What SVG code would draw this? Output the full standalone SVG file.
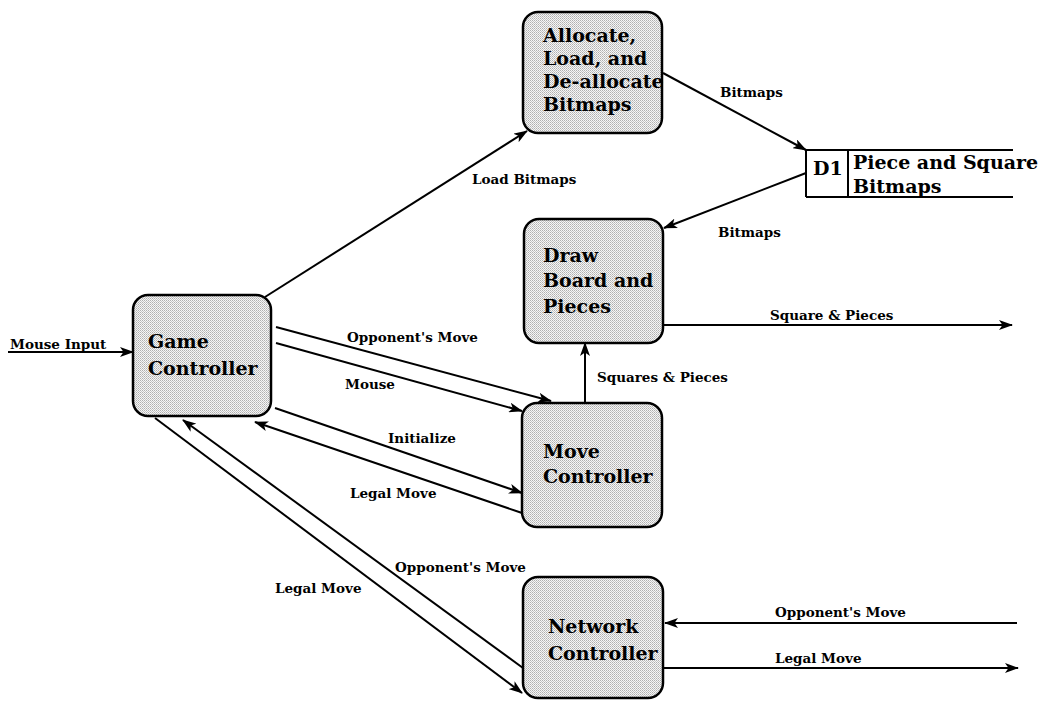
<svg xmlns="http://www.w3.org/2000/svg" width="1038" height="708" viewBox="0 0 1038 708">
  <defs>
    <!-- fine halftone fill for process bubbles -->
    <pattern id="dots" width="2" height="2" patternUnits="userSpaceOnUse">
      <rect width="2" height="2" fill="#f6f6f6"/>
      <rect x="0" y="0" width="1" height="1" fill="#b0b0b0"/>
      <rect x="1" y="1" width="1" height="1" fill="#c6c6c6"/>
    </pattern>
    <marker id="arrow" markerWidth="14" markerHeight="10" refX="13" refY="5" orient="auto" markerUnits="userSpaceOnUse">
      <path d="M0,0 L14,5 L0,10 L3.5,5 z" fill="#000"/>
    </marker>
    <style>
      .proc { fill: url(#dots); stroke: #000; stroke-width: 2.5; }
      .ptext { font-family: "DejaVu Serif", "Liberation Serif", serif; font-weight: bold; font-size: 19px; fill: #000; }
      .flow { fill: none; stroke: #000; stroke-width: 2; }
      .arr { marker-end: url(#arrow); }
      .lbl { font-family: "DejaVu Serif", "Liberation Serif", serif; font-weight: bold; font-size: 13.5px; fill: #000; }
      .store { fill: none; stroke: #000; stroke-width: 2; }
    </style>
  </defs>

  <!-- data flows -->
  <g id="connectors">
    <line class="flow arr" x1="8" y1="352" x2="133" y2="352"/>
    <line class="flow arr" x1="265" y1="297" x2="527" y2="131"/>
    <line class="flow arr" x1="663" y1="73" x2="806" y2="150"/>
    <line class="flow arr" x1="806" y1="173" x2="664" y2="228"/>
    <line class="flow arr" x1="663" y1="325" x2="1012" y2="325"/>
    <line class="flow arr" x1="585" y1="403" x2="585" y2="343"/>
    <line class="flow arr" x1="276" y1="327" x2="551" y2="401"/>
    <line class="flow arr" x1="276" y1="343" x2="522" y2="411"/>
    <line class="flow arr" x1="275" y1="408" x2="522" y2="493"/>
    <line class="flow arr" x1="522" y1="513" x2="255" y2="422"/>
    <line class="flow arr" x1="155" y1="418" x2="522" y2="693"/>
    <line class="flow arr" x1="523" y1="668" x2="183" y2="420"/>
    <line class="flow arr" x1="1017" y1="623" x2="665" y2="623"/>
    <line class="flow arr" x1="663" y1="668" x2="1018" y2="668"/>

    <text class="lbl" x="10" y="349">Mouse Input</text>
    <text class="lbl" x="472" y="184">Load Bitmaps</text>
    <text class="lbl" x="720" y="97">Bitmaps</text>
    <text class="lbl" x="718" y="237">Bitmaps</text>
    <text class="lbl" x="770" y="320">Square &amp; Pieces</text>
    <text class="lbl" x="597" y="382">Squares &amp; Pieces</text>
    <text class="lbl" x="347" y="342">Opponent's Move</text>
    <text class="lbl" x="345" y="389">Mouse</text>
    <text class="lbl" x="388" y="443">Initialize</text>
    <text class="lbl" x="350" y="498">Legal Move</text>
    <text class="lbl" x="395" y="572">Opponent's Move</text>
    <text class="lbl" x="275" y="593">Legal Move</text>
    <text class="lbl" x="775" y="617">Opponent's Move</text>
    <text class="lbl" x="775" y="663">Legal Move</text>
  </g>

  <g id="game-controller">
    <rect class="proc" x="133" y="295" width="138" height="121" rx="15"/>
    <text class="ptext" x="148" y="348">Game</text>
    <text class="ptext" x="148" y="375">Controller</text>
  </g>

  <g id="bitmap-manager">
    <rect class="proc" x="523" y="12" width="139" height="121" rx="15"/>
    <text class="ptext" x="543" y="42">Allocate,</text>
    <text class="ptext" x="543" y="65">Load, and</text>
    <text class="ptext" x="543" y="88">De-allocate</text>
    <text class="ptext" x="543" y="111">Bitmaps</text>
  </g>

  <g id="draw-board">
    <rect class="proc" x="524" y="219" width="139" height="124" rx="15"/>
    <text class="ptext" x="543" y="262">Draw</text>
    <text class="ptext" x="543" y="287">Board and</text>
    <text class="ptext" x="543" y="313">Pieces</text>
  </g>

  <g id="move-controller">
    <rect class="proc" x="522" y="403" width="140" height="124" rx="15"/>
    <text class="ptext" x="543" y="458">Move</text>
    <text class="ptext" x="543" y="483">Controller</text>
  </g>

  <g id="network-controller">
    <rect class="proc" x="523" y="577" width="140" height="121" rx="15"/>
    <text class="ptext" x="548" y="633">Network</text>
    <text class="ptext" x="548" y="660">Controller</text>
  </g>

  <g id="store-d1">
    <line class="store" x1="806" y1="150" x2="1013" y2="150"/>
    <line class="store" x1="806" y1="197" x2="1013" y2="197"/>
    <line class="store" x1="806" y1="150" x2="806" y2="197"/>
    <line class="store" x1="848" y1="150" x2="848" y2="197"/>
    <text class="ptext" x="813" y="175">D1</text>
    <text class="ptext" x="853" y="169">Piece and Square</text>
    <text class="ptext" x="853" y="193">Bitmaps</text>
  </g>
</svg>
